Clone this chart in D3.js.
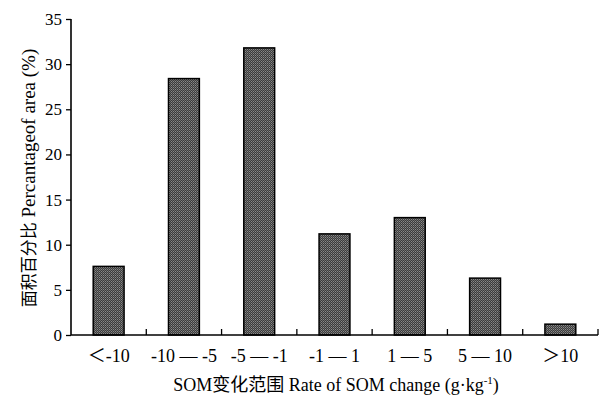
<!DOCTYPE html>
<html>
<head>
<meta charset="utf-8">
<script src="https://cdn.jsdelivr.net/npm/d3@7"></script>
<style>
  body { margin: 0; background: #fff; }
  svg { display: block; }
  text { font-family: "Liberation Serif", "Times New Roman", "Noto Sans CJK SC", serif; fill: #000; }
</style>
</head>
<body>
<div id="chart"></div>
<script>
const categories = ['＜-10', '-10 — -5', '-5 — -1', '-1 — 1', '1 — 5', '5 — 10', '＞10'];
const areaPercent = [7.6, 28.4, 31.8, 11.2, 13.0, 6.3, 1.2];
const yTicks = [0, 5, 10, 15, 20, 25, 30, 35];

const W = 606, H = 405;
const margin = { top: 19, right: 8, bottom: 70, left: 71 };
const width = W - margin.left - margin.right;
const height = H - margin.top - margin.bottom;

const svg = d3.select('#chart')
  .append('svg')
    .attr('width', W)
    .attr('height', H);

// checkered fill like the printed hatch
const pat = svg.append('defs').append('pattern')
    .attr('id', 'checker')
    .attr('width', 2)
    .attr('height', 2)
    .attr('patternUnits', 'userSpaceOnUse');
pat.append('rect').attr('width', 2).attr('height', 2).attr('fill', '#3c3c3c');
pat.append('rect').attr('width', 1).attr('height', 1).attr('fill', '#8a8a8a');
pat.append('rect').attr('x', 1).attr('y', 1).attr('width', 1).attr('height', 1).attr('fill', '#6a6a6a');

const chart = svg.append('g')
    .attr('transform', `translate(${margin.left},${margin.top})`);

const x = d3.scaleBand()
  .domain(categories)
  .range([0, width])
  .paddingInner(0.59)
  .paddingOuter(0.295);

const xb = d3.scaleBand().domain(categories).range([0, width]);

const y = d3.scaleLinear()
  .domain([0, 35])
  .range([height, 0]);

// bars
chart.selectAll('.bar')
  .data(categories)
  .join('rect')
    .attr('class', 'bar')
    .attr('x', d => x(d))
    .attr('width', x.bandwidth())
    .attr('y', (d, i) => y(areaPercent[i]))
    .attr('height', (d, i) => y(0) - y(areaPercent[i]))
    .attr('fill', 'url(#checker)')
    .attr('stroke', '#000')
    .attr('stroke-width', 1.5);

// y axis
const yAxis = chart.append('g')
  .call(d3.axisLeft(y).tickValues(yTicks).tickSize(5).tickPadding(4));
yAxis.select('.domain').attr('stroke', '#000').attr('stroke-width', 1.6).attr('d', `M0,${height}V0`);
yAxis.selectAll('.tick line').attr('stroke', '#000').attr('stroke-width', 1.3);
yAxis.selectAll('.tick text').style('font-size', '17px');

// x axis: baseline with small upward ticks at band boundaries
const xAxis = chart.append('g').attr('transform', `translate(0,${height})`);
xAxis.append('line')
    .attr('x1', 0).attr('x2', width)
    .attr('stroke', '#000').attr('stroke-width', 1.6);
xAxis.selectAll('.bound')
  .data(categories)
  .join('line')
    .attr('class', 'bound')
    .attr('x1', d => xb(d) + xb.bandwidth())
    .attr('x2', d => xb(d) + xb.bandwidth())
    .attr('y1', 0).attr('y2', -6)
    .attr('stroke', '#000').attr('stroke-width', 1.3);
xAxis.selectAll('.lab')
  .data(categories)
  .join('text')
    .attr('class', 'lab')
    .attr('x', d => xb(d) + xb.bandwidth() / 2)
    .attr('y', 27)
    .attr('text-anchor', 'middle')
    .style('font-size', '18px')
    .text(d => d);

// axis titles
const xTitle = svg.append('text')
    .attr('x', 336)
    .attr('y', 391)
    .attr('text-anchor', 'middle')
    .style('font-size', '18px');
xTitle.append('tspan').text('SOM变化范围 Rate of SOM change (g·kg');
xTitle.append('tspan').attr('dy', -7).style('font-size', '11px').text('-1');
xTitle.append('tspan').attr('dy', 7).text(')');

const yTitle = svg.append('text')
    .attr('transform', 'translate(35,178) rotate(-90)')
    .attr('text-anchor', 'middle');
yTitle.append('tspan').style('font-size', '17px').text('面积百分比');
yTitle.append('tspan').style('font-size', '19px').text(' Percantageof area (%)');
</script>
</body>
</html>
